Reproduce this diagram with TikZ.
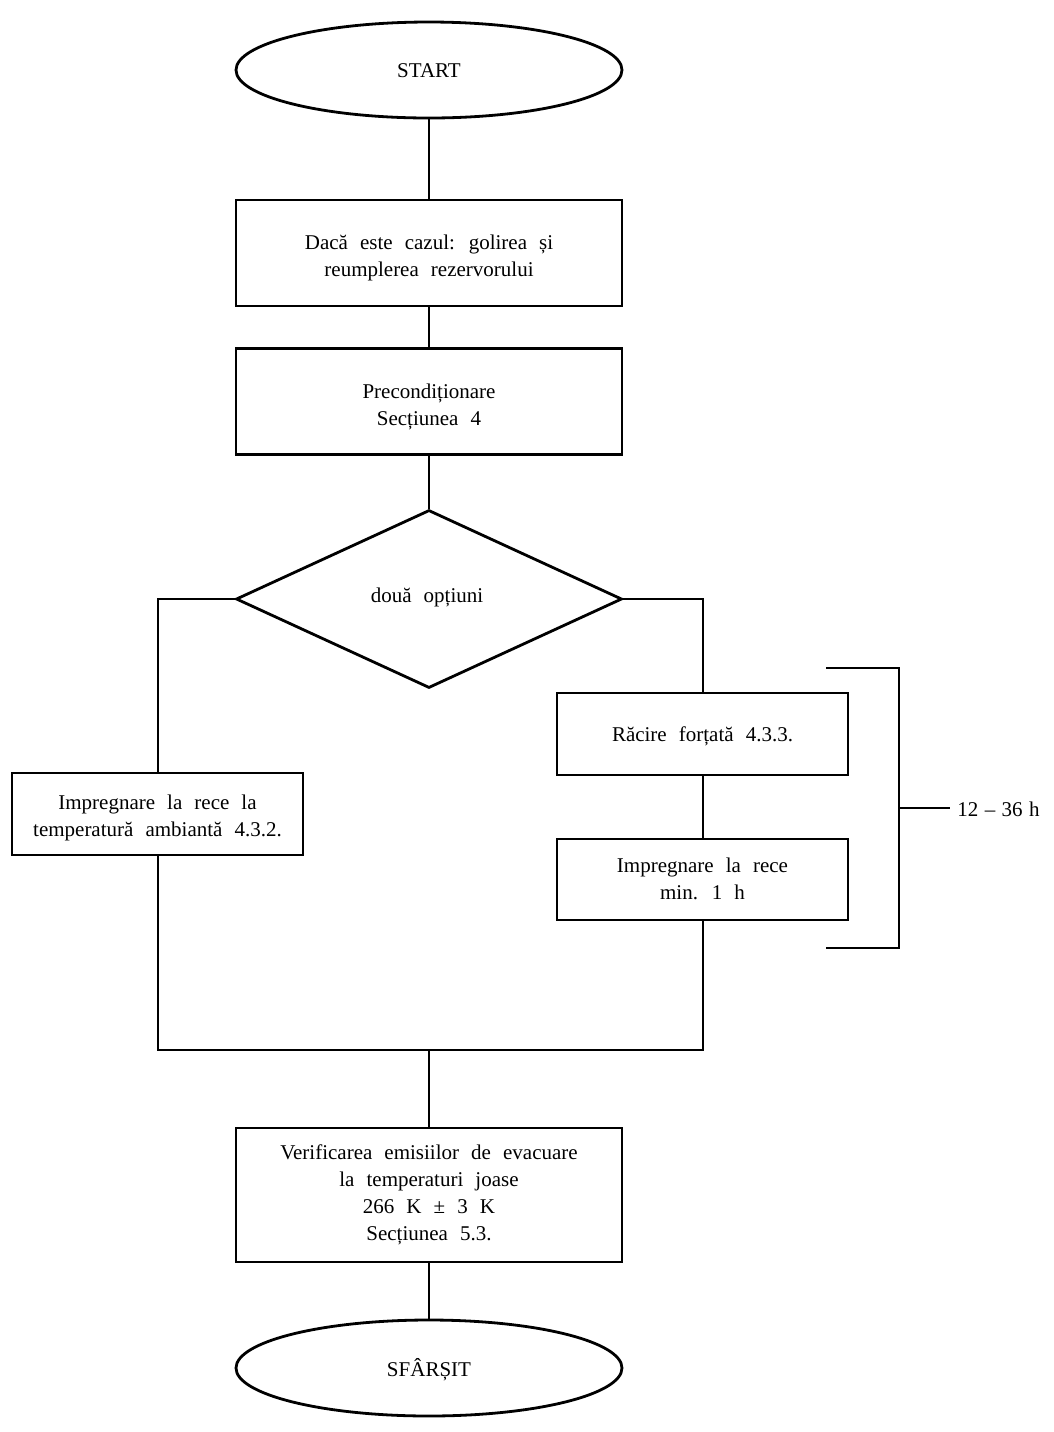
\documentclass[tikz,border=0pt]{standalone}
\usepackage{fontspec}
\setmainfont{Liberation Serif}[WordSpace=2.3]
\usetikzlibrary{shapes.geometric}
\begin{document}
\begin{tikzpicture}[x=0.5pt,y=-0.5pt,
  every node/.style={font=\fontsize{10.5pt}{13.5pt}\selectfont, align=center, inner sep=0pt},
  boxnode/.style={draw, line width=1.4pt, minimum width=193pt},
  ovalnode/.style={draw, ellipse, line width=1.4pt, minimum width=193pt, minimum height=48pt},
  link/.style={line width=1pt}]
\useasboundingbox (0,0) rectangle (1054,1432);
\node[ovalnode] (start) at (429,70) {};
\node (startt) at (429,71) {START};
\node[boxnode, minimum height=53pt] (b1) at (429,253) {};
\node (b1t) at (429,258) {Dacă este cazul: golirea și\\reumplerea rezervorului};
\node[boxnode, minimum height=53pt] (b2) at (429,401.5) {};
\node (b2t) at (429,406.5) {Precondiționare\\Secțiunea 4};
\node[draw, diamond, line width=1.4pt, minimum width=193pt, minimum height=89pt] (dia) at (429,599) {};
\node (diat) at (427,597) {două opțiuni};
\node[boxnode, minimum width=145.5pt, minimum height=41pt] (lb) at (157.5,814) {};
\node (lbt) at (157.5,818) {Impregnare la rece la\\temperatură ambiantă 4.3.2.};
\node[boxnode, minimum width=145.5pt, minimum height=41pt] (rc) at (702.5,734) {};
\node (rct) at (702.5,736) {Răcire forțată 4.3.3.};
\node[boxnode, minimum width=145.5pt, minimum height=40.5pt] (ri) at (702.5,879.5) {};
\node (rit) at (702.5,878.5) {Impregnare la rece\\min. 1 h};
\node[boxnode, minimum height=67pt] (fin) at (429,1195) {};
\node (fint) at (429,1194.5) {Verificarea emisiilor de evacuare\\la temperaturi joase\\266 K ± 3 K\\Secțiunea 5.3.};
\node[ovalnode] (end) at (429,1368) {};
\node (endt) at (429,1370) {SFÂRȘIT};
\coordinate (jl) at (157.5,1050);
\coordinate (jr) at (702.5,1050);
\coordinate (jc) at (429,1050);
\draw[link] (start) -- (b1);
\draw[link] (b1) -- (b2);
\draw[link] (b2) -- (dia);
\draw[link] (dia.west) -| (lb.north);
\draw[link] (dia.east) -| (rc.north);
\draw[link] (rc) -- (ri);
\draw[link] (lb.south) -- (jl) -- (jr) -- (ri.south);
\draw[link] (jc) -- (fin);
\draw[link] (fin) -- (end);
\coordinate (bt1) at (826,668);
\coordinate (bt2) at (899,668);
\coordinate (bb1) at (826,948);
\coordinate (bb2) at (899,948);
\coordinate (bm) at (899,808);
\coordinate (bme) at (950,808);
\node[anchor=west] (dur) at (957,809) {12\hspace{3.2pt}–\hspace{3.2pt}36\hspace{3.2pt}h};
\draw[link] (bt1) -- (bt2) -- (bb2) -- (bb1);
\draw[link] (bm) -- (bme);
\end{tikzpicture}
\end{document}
